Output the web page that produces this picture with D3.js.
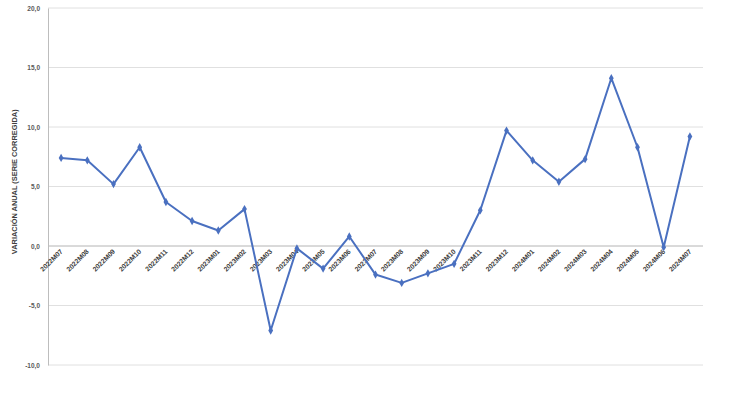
<!DOCTYPE html>
<html>
<head>
<meta charset="utf-8">
<script src="https://cdn.jsdelivr.net/npm/d3@7"></script>
<style>
  body { margin: 0; background: #fff; }
  text { font-family: "Liberation Sans", Arial, sans-serif; }
</style>
</head>
<body>
<div id="chart"></div>
<script>
// Data
const periods = ["2022M07", "2022M08", "2022M09", "2022M10", "2022M11", "2022M12",
  "2023M01", "2023M02", "2023M03", "2023M04", "2023M05", "2023M06", "2023M07",
  "2023M08", "2023M09", "2023M10", "2023M11", "2023M12", "2024M01", "2024M02",
  "2024M03", "2024M04", "2024M05", "2024M06", "2024M07"];
const variation = [7.4, 7.2, 5.2, 8.3, 3.7, 2.1, 1.3, 3.1, -7.1, -0.2, -1.9, 0.8, -2.4,
  -3.1, -2.3, -1.5, 3.0, 9.7, 7.2, 5.4, 7.3, 14.1, 8.3, -0.1, 9.2];
const yTicks = [-10, -5, 0, 5, 10, 15, 20];

// Dimensions
const dimensions = { width: 739, height: 399, left: 48, right: 36, top: 8, bottom: 34 };
dimensions.ctrWidth = dimensions.width - dimensions.left - dimensions.right;
dimensions.ctrHeight = dimensions.height - dimensions.top - dimensions.bottom;

const svg = d3.select("#chart")
  .append("svg")
  .attr("width", dimensions.width)
  .attr("height", dimensions.height);

const ctr = svg.append("g")
  .attr("transform", `translate(${dimensions.left}, ${dimensions.top})`);

const xScale = d3.scaleBand()
  .domain(periods)
  .range([0, dimensions.ctrWidth]);

const yScale = d3.scaleLinear()
  .domain([-10, 20])
  .range([dimensions.ctrHeight, 0]);

const xPos = (p) => xScale(p) + xScale.bandwidth() / 2;
const fmt = (v) => d3.format(".1f")(v).replace(".", ",").replace("−", "-");

// Gridlines
ctr.append("g")
  .selectAll("line")
  .data(yTicks)
  .join("line")
  .attr("x1", 0)
  .attr("x2", dimensions.ctrWidth)
  .attr("y1", (d) => yScale(d))
  .attr("y2", (d) => yScale(d))
  .attr("stroke", (d) => (d === 0 ? "#b4b4b4" : "#e0e0e0"))
  .attr("stroke-width", 1);

// Y axis
const yAxis = d3.axisLeft(yScale)
  .tickValues(yTicks)
  .tickSize(0)
  .tickPadding(8)
  .tickFormat(fmt);

const yAxisGroup = ctr.append("g").call(yAxis);
yAxisGroup.select(".domain").attr("stroke", "#bdbdbd");
yAxisGroup.selectAll("text")
  .attr("font-size", 6.5)
  .attr("font-weight", "bold")
  .attr("fill", "#595959");

// X labels, drawn along 45° guide paths that end just below the zero line
const defs = svg.append("defs");
const diag = 30;
defs.selectAll("path")
  .data(periods)
  .join("path")
  .attr("id", (d, i) => `lbl${i}`)
  .attr("d", (d) => {
    const x1 = xPos(d) + 2;
    const y1 = yScale(0) + 6;
    return `M${x1 - diag},${y1 + diag}L${x1},${y1}`;
  });

ctr.append("g")
  .selectAll("text")
  .data(periods)
  .join("text")
  .attr("font-size", 6.8)
  .attr("font-weight", "bold")
  .attr("fill", "#404040")
  .append("textPath")
  .attr("href", (d, i) => `#lbl${i}`)
  .attr("startOffset", "100%")
  .attr("text-anchor", "end")
  .text((d) => d);

// Line
const lineGenerator = d3.line()
  .x((d, i) => xPos(periods[i]))
  .y((d) => yScale(d));

ctr.append("path")
  .datum(variation)
  .attr("d", lineGenerator)
  .attr("fill", "none")
  .attr("stroke", "#4a70c0")
  .attr("stroke-width", 2)
  .attr("stroke-linejoin", "round");

// Markers
ctr.selectAll(".marker")
  .data(variation)
  .join("path")
  .attr("class", "marker")
  .attr("d", d3.symbol(d3.symbolDiamond, 20))
  .attr("fill", "#4a70c0")
  .attr("transform", (d, i) => `translate(${xPos(periods[i])}, ${yScale(d)})`);

// Y axis title
svg.append("text")
  .attr("transform", `translate(17, ${dimensions.top + yScale(5.4)}) rotate(-90)`)
  .attr("text-anchor", "middle")
  .attr("font-size", 7.4)
  .attr("font-weight", "bold")
  .attr("fill", "#404040")
  .text("VARIACIÓN ANUAL (SERIE CORREGIDA)");
</script>
</body>
</html>
